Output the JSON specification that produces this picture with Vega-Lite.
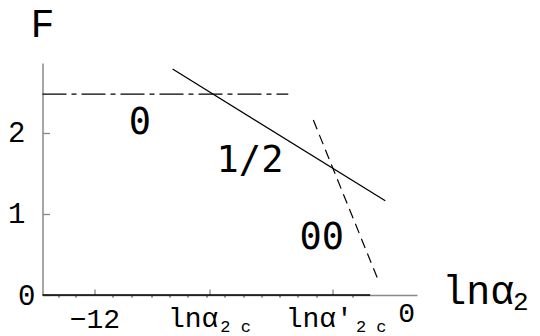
{
  "$schema": "https://vega.github.io/schema/vega-lite/v6.json",
  "width": 374.5,
  "height": 232,
  "autosize": "none",
  "padding": {"left": 42.5, "top": 63, "right": 123, "bottom": 41},
  "background": "white",
  "config": {"view": {"stroke": null}, "axis": {"grid": false}},
  "datasets": {
    "curves": [
      {"x": -14.01, "F": 2.48, "curve": "0"},
      {"x": -4.58, "F": 2.48, "curve": "0"},
      {"x": -9.02, "F": 2.79, "curve": "1/2"},
      {"x": -0.86, "F": 1.164, "curve": "1/2"},
      {"x": -3.62, "F": 2.16, "curve": "00"},
      {"x": -1.14, "F": 0.19, "curve": "00"},
      {"x": -14.01, "F": 0, "curve": "ground"},
      {"x": -1.44, "F": 0, "curve": "ground"}
    ],
    "phases": [
      {"x": -10.27, "F": 2.12, "text": "0"},
      {"x": -6.05, "F": 1.657, "text": "1/2"},
      {"x": -3.3, "F": 0.7, "text": "00"}
    ]
  },
  "resolve": {"axis": {"x": "independent"}},
  "layer": [
    {
      "data": {"name": "curves"},
      "transform": [{"filter": "datum.curve === 'ground'"}],
      "mark": {"type": "line", "color": "black", "strokeWidth": 1.6},
      "encoding": {
        "x": {
          "field": "x", "type": "quantitative",
          "scale": {"domain": [-14.01, 0.357], "nice": false, "zero": false},
          "axis": {
            "orient": "bottom",
            "values": [-13.38, -12.74, -11.31, -10.58, -9.84, -9.12, -8.43, -7.7, -7.02, -6.28, -5.59, -4.9, -4.21, -3.48, -2.1],
            "tickSize": 2, "tickColor": "black", "tickWidth": 1,
            "domain": false, "labels": false, "title": null
          }
        },
        "y": {
          "field": "F", "type": "quantitative",
          "scale": {"domain": [0, 2.864], "nice": false},
          "axis": {
            "values": [0, 1, 2], "format": "d",
            "tickSize": -7, "tickColor": "#888", "tickWidth": 1.3,
            "domainColor": "#888", "domainWidth": 1.5,
            "labelFont": "Liberation Mono", "labelFontSize": 29, "labelColor": "black",
            "labelPadding": {"condition": {"test": "datum.value === 0", "value": 14.5}, "value": 24.5},
            "labelBaseline": "middle", "labelFlush": false, "labelOverlap": false,
            "title": "F", "titleAngle": 0, "titleFont": "Liberation Mono", "titleFontSize": 40,
            "titleFontWeight": "normal", "titleColor": "black",
            "titleX": -0.5, "titleY": -39, "titleAlign": "center", "titleBaseline": "middle"
          }
        }
      }
    },
    {
      "layer": [
        {
          "data": {"name": "curves"},
          "transform": [{"filter": "datum.curve === '0'"}],
          "mark": {"type": "line", "color": "black", "strokeWidth": 1.2, "strokeDash": [24, 5, 5, 5]},
          "encoding": {
            "x": {
              "field": "x", "type": "quantitative",
              "axis": {
                "orient": "bottom",
                "values": [-12, -7.61, -2.87],
                "tickSize": -6, "tickColor": "#888", "tickWidth": 1.3,
                "domainColor": "#888", "domainWidth": 1.5,
                "labels": false,
                "title": "lnα", "titleFont": "Liberation Mono", "titleFontSize": 40,
                "titleFontWeight": "normal", "titleColor": "black",
                "titleX": 399.2, "titleY": 8, "titleAlign": "left", "titleBaseline": "alphabetic"
              }
            },
            "y": {"field": "F", "type": "quantitative"}
          }
        },
        {
          "data": {"name": "curves"},
          "transform": [{"filter": "datum.curve === '1/2'"}],
          "mark": {"type": "line", "color": "black", "strokeWidth": 1.3},
          "encoding": {
            "x": {"field": "x", "type": "quantitative"},
            "y": {"field": "F", "type": "quantitative"}
          }
        },
        {
          "data": {"name": "curves"},
          "transform": [{"filter": "datum.curve === '00'"}],
          "mark": {"type": "line", "color": "black", "strokeWidth": 1.2, "strokeDash": [10, 6]},
          "encoding": {
            "x": {"field": "x", "type": "quantitative"},
            "y": {"field": "F", "type": "quantitative"}
          }
        },
        {
          "data": {"name": "phases"},
          "mark": {"type": "text", "font": "DejaVu Sans Mono", "fontSize": 37, "align": "center", "baseline": "middle", "color": "black"},
          "encoding": {
            "x": {"field": "x", "type": "quantitative"},
            "y": {"field": "F", "type": "quantitative"},
            "text": {"field": "text"}
          }
        },
        {
          "data": {"values": [{"x": -12, "F": 0, "text": "−12"}]},
          "mark": {"type": "text", "font": "Liberation Mono", "fontSize": 28, "align": "center", "baseline": "middle", "dy": 25, "color": "black"},
          "encoding": {
            "x": {"field": "x", "type": "quantitative"},
            "y": {"field": "F", "type": "quantitative"},
            "text": {"field": "text"}
          }
        },
        {
          "data": {"values": [{"x": 0, "F": 0, "text": "0"}]},
          "mark": {"type": "text", "font": "Liberation Mono", "fontSize": 28, "align": "center", "baseline": "middle", "dx": -1, "dy": 19, "color": "black"},
          "encoding": {
            "x": {"field": "x", "type": "quantitative"},
            "y": {"field": "F", "type": "quantitative"},
            "text": {"field": "text"}
          }
        },
        {
          "data": {"values": [{"x": -7.61, "F": 0, "text": "lnα"}]},
          "mark": {"type": "text", "font": "Liberation Mono", "fontSize": 28, "align": "right", "baseline": "alphabetic", "dx": 9, "dy": 32, "color": "black"},
          "encoding": {
            "x": {"field": "x", "type": "quantitative"},
            "y": {"field": "F", "type": "quantitative"},
            "text": {"field": "text"}
          }
        },
        {
          "data": {"values": [{"x": -7.61, "F": 0, "text": "2 c"}]},
          "mark": {"type": "text", "font": "Liberation Mono", "fontSize": 17, "align": "left", "baseline": "alphabetic", "dx": 11, "dy": 37, "color": "black"},
          "encoding": {
            "x": {"field": "x", "type": "quantitative"},
            "y": {"field": "F", "type": "quantitative"},
            "text": {"field": "text"}
          }
        },
        {
          "data": {"values": [{"x": -2.87, "F": 0, "text": "lnα'"}]},
          "mark": {"type": "text", "font": "Liberation Mono", "fontSize": 28, "align": "right", "baseline": "alphabetic", "dx": 20, "dy": 32, "color": "black"},
          "encoding": {
            "x": {"field": "x", "type": "quantitative"},
            "y": {"field": "F", "type": "quantitative"},
            "text": {"field": "text"}
          }
        },
        {
          "data": {"values": [{"x": -2.87, "F": 0, "text": "2 c"}]},
          "mark": {"type": "text", "font": "Liberation Mono", "fontSize": 17, "align": "left", "baseline": "alphabetic", "dx": 23, "dy": 37, "color": "black"},
          "encoding": {
            "x": {"field": "x", "type": "quantitative"},
            "y": {"field": "F", "type": "quantitative"},
            "text": {"field": "text"}
          }
        },
        {
          "data": {"values": [{"x": 0.357, "F": 0, "text": "2"}]},
          "mark": {"type": "text", "font": "Liberation Mono", "fontSize": 26, "align": "left", "baseline": "alphabetic", "dx": 96, "dy": 15, "color": "black"},
          "encoding": {
            "x": {"field": "x", "type": "quantitative"},
            "y": {"field": "F", "type": "quantitative"},
            "text": {"field": "text"}
          }
        }
      ]
    }
  ]
}
